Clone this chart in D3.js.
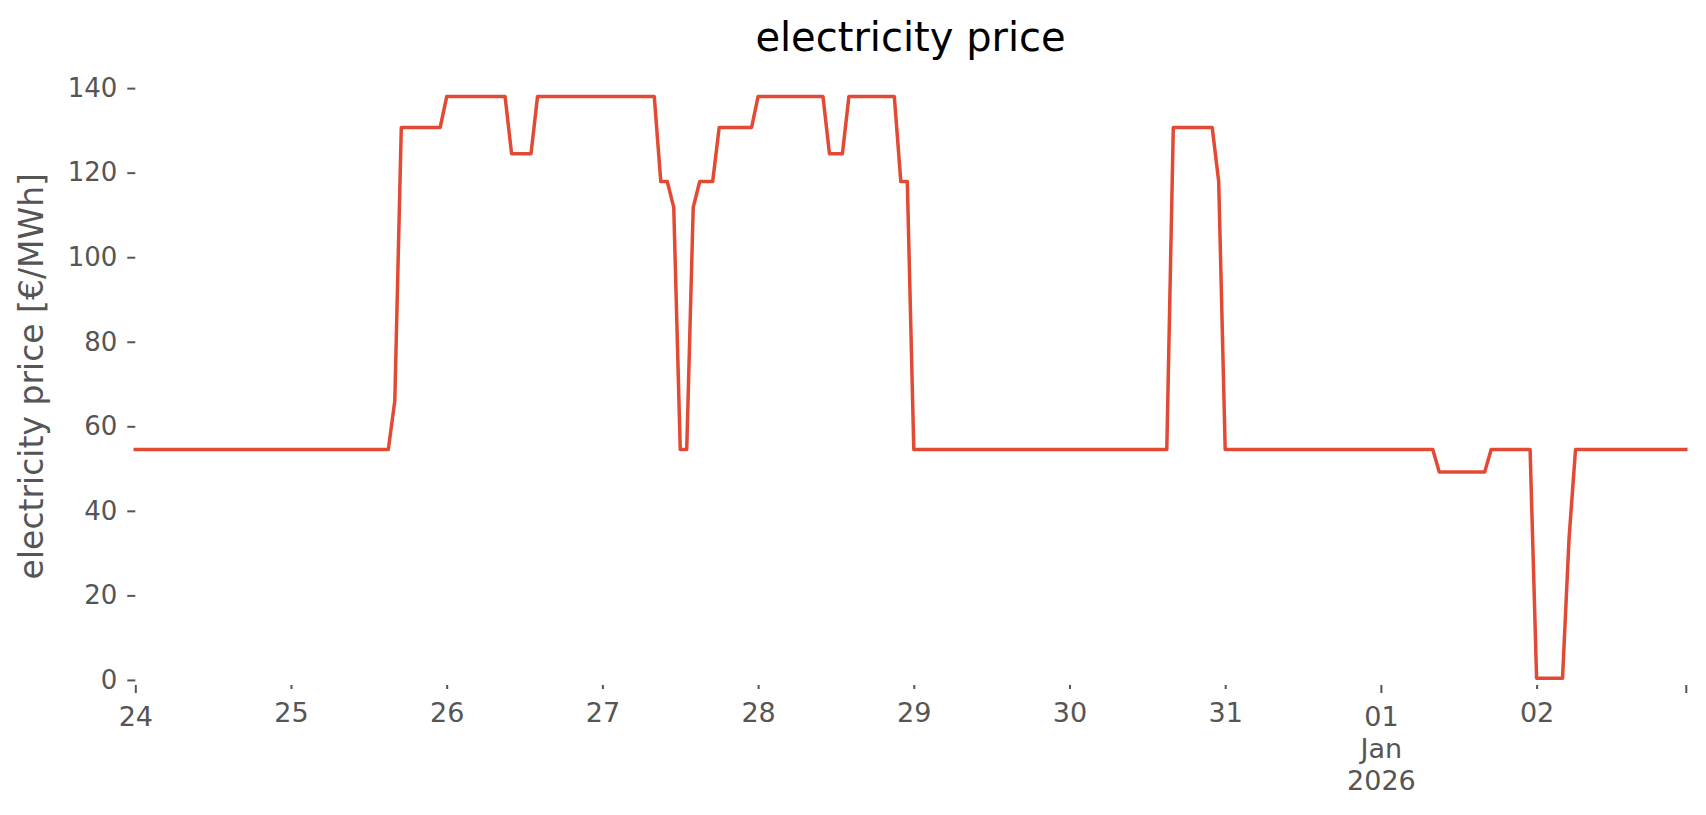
<!DOCTYPE html>
<html>
<head>
<meta charset="utf-8">
<script src="https://cdn.jsdelivr.net/npm/d3@7"></script>
<style>
  body { margin: 0; background: #fff; }
  text { font-family: "DejaVu Sans", sans-serif; }
</style>
</head>
<body>
<div id="my_dataviz"></div>
<script>
// hourly prices [€/MWh], starting 24 Dec 2025 00:00, one row per day
const startDay = new Date(2025, 11, 24);
const price = [
  54.5, 54.5, 54.5, 54.5, 54.5, 54.5, 54.5, 54.5, 54.5, 54.5, 54.5, 54.5, 54.5, 54.5, 54.5, 54.5, 54.5, 54.5, 54.5, 54.5, 54.5, 54.5, 54.5, 54.5,
  54.5, 54.5, 54.5, 54.5, 54.5, 54.5, 54.5, 54.5, 54.5, 54.5, 54.5, 54.5, 54.5, 54.5, 54.5, 54.5, 66.0, 130.7, 130.7, 130.7, 130.7, 130.7, 130.7, 130.7,
  138, 138, 138, 138, 138, 138, 138, 138, 138, 138, 124.5, 124.5, 124.5, 124.5, 138, 138, 138, 138, 138, 138, 138, 138, 138, 138,
  138, 138, 138, 138, 138, 138, 138, 138, 138, 117.9, 117.9, 111.8, 54.5, 54.5, 111.8, 117.9, 117.9, 117.9, 130.7, 130.7, 130.7, 130.7, 130.7, 130.7,
  138, 138, 138, 138, 138, 138, 138, 138, 138, 138, 138, 124.5, 124.5, 124.5, 138, 138, 138, 138, 138, 138, 138, 138, 117.9, 117.9,
  54.5, 54.5, 54.5, 54.5, 54.5, 54.5, 54.5, 54.5, 54.5, 54.5, 54.5, 54.5, 54.5, 54.5, 54.5, 54.5, 54.5, 54.5, 54.5, 54.5, 54.5, 54.5, 54.5, 54.5,
  54.5, 54.5, 54.5, 54.5, 54.5, 54.5, 54.5, 54.5, 54.5, 54.5, 54.5, 54.5, 54.5, 54.5, 54.5, 54.5, 130.7, 130.7, 130.7, 130.7, 130.7, 130.7, 130.7, 117.9,
  54.5, 54.5, 54.5, 54.5, 54.5, 54.5, 54.5, 54.5, 54.5, 54.5, 54.5, 54.5, 54.5, 54.5, 54.5, 54.5, 54.5, 54.5, 54.5, 54.5, 54.5, 54.5, 54.5, 54.5,
  54.5, 54.5, 54.5, 54.5, 54.5, 54.5, 54.5, 54.5, 54.5, 49.2, 49.2, 49.2, 49.2, 49.2, 49.2, 49.2, 49.2, 54.5, 54.5, 54.5, 54.5, 54.5, 54.5, 54.5,
  0.4, 0.4, 0.4, 0.4, 0.4, 33.4, 54.5, 54.5, 54.5, 54.5, 54.5, 54.5, 54.5, 54.5, 54.5, 54.5, 54.5, 54.5, 54.5, 54.5, 54.5, 54.5, 54.5, 54.5
];

// axis ticks
const yTicks = [0, 20, 40, 60, 80, 100, 120, 140];
const minorDays = [1, 2, 3, 4, 5, 6, 7, 9];   // day offsets from startDay
const majorDays = [0, 8];
const dayLabels = ["24", "25", "26", "27", "28", "29", "30", "31", ["01", "Jan", "2026"], "02"];

// figure size and axes box
const W = 1706, H = 815;
const margin = {top: 67.4, right: 20.2, bottom: 130, left: 135.3};

const svg = d3.select("#my_dataviz")
  .append("svg")
    .attr("width", W)
    .attr("height", H);

const data = price.map((v, i) => ({t: d3.timeHour.offset(startDay, i), v: v}));

const x = d3.scaleTime()
  .domain(d3.extent(data, d => d.t))
  .range([margin.left, W - margin.right]);

const y = d3.scaleLinear()
  .domain([-1.2, 144.9])
  .range([H - margin.bottom, margin.top]);

const tickColor = "#555555";

// Y axis
svg.append("g")
    .attr("transform", `translate(${margin.left},0)`)
    .call(d3.axisLeft(y).tickValues(yTicks).tickSize(8).tickPadding(10))
    .call(g => g.select(".domain").remove())
    .call(g => g.selectAll("line").attr("stroke", tickColor).attr("stroke-width", 2))
    .call(g => g.selectAll("text").attr("fill", tickColor).attr("font-size", 26)
      .attr("font-family", "DejaVu Sans"));

// X axis: minor day ticks, major ticks on start, month change and end
function dayLabel(d) {
  if (+d3.timeDay.floor(d) !== +d) return "";
  const i = d3.timeDay.count(startDay, d);
  return dayLabels[i] || "";
}

function xAxis(days, size, base, extra) {
  const vals = days.map(i => d3.timeDay.offset(startDay, i)).concat(extra);
  const g = svg.append("g")
    .attr("transform", `translate(0,${H - margin.bottom})`)
    .call(d3.axisBottom(x).tickValues(vals).tickSize(size).tickFormat(""));
  g.select(".domain").remove();
  g.selectAll("line").attr("stroke", tickColor).attr("stroke-width", 2);
  g.selectAll(".tick").each(function(d) {
    const lab = dayLabel(d);
    const lines = Array.isArray(lab) ? lab : [lab];
    const t = d3.select(this).select("text")
      .attr("y", base).attr("dy", null)
      .attr("fill", tickColor).attr("font-size", 27)
      .attr("font-family", "DejaVu Sans");
    lines.forEach((s, k) => {
      t.append("tspan").attr("x", 0).attr("y", base + k * 32.4).text(s);
    });
  });
}
xAxis(minorDays, 4, 37, []);
xAxis(majorDays, 8, 40.5, [x.domain()[1]]);

// line
svg.append("path")
    .datum(data)
    .attr("fill", "none")
    .attr("stroke", "#E24A33")
    .attr("stroke-width", 3.5)
    .attr("stroke-linejoin", "round")
    .attr("stroke-linecap", "square")
    .attr("d", d3.line().x(d => x(d.t)).y(d => y(d.v)));

// title
svg.append("text")
    .attr("x", (margin.left + W - margin.right) / 2)
    .attr("y", 50.7)
    .attr("text-anchor", "middle")
    .attr("font-size", 40)
    .attr("fill", "#000")
    .text("electricity price");

// y label
svg.append("text")
    .attr("transform", `translate(43,${(margin.top + H - margin.bottom) / 2}) rotate(-90)`)
    .attr("text-anchor", "middle")
    .attr("font-size", 33)
    .attr("fill", tickColor)
    .text("electricity price [€/MWh]");
</script>
</body>
</html>
